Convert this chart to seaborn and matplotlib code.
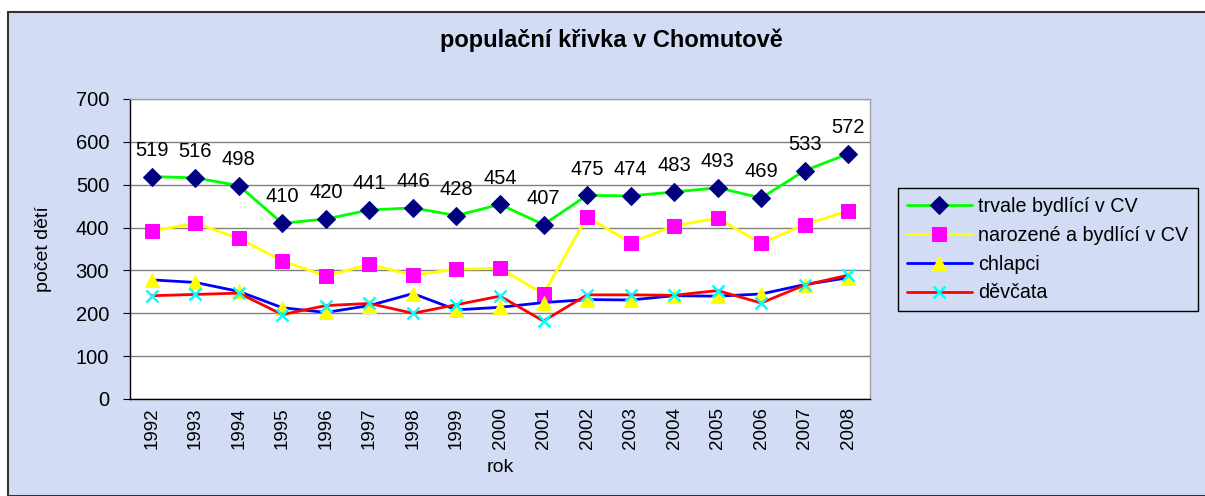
import matplotlib
matplotlib.use("Agg")
import matplotlib.pyplot as plt
import seaborn as sns
import numpy as np
from matplotlib.patches import Rectangle

# data
years = ['1992', '1993', '1994', '1995', '1996', '1997', '1998', '1999', '2000',
         '2001', '2002', '2003', '2004', '2005', '2006', '2007', '2008']
trvale = [519, 516, 498, 410, 420, 441, 446, 428, 454, 407, 475, 474, 483, 493, 469, 533, 572]
narozene = [392, 410, 375, 322, 287, 314, 289, 303, 305, 245, 425, 365, 404, 422, 363, 407, 439]
chlapci = [278, 272, 251, 213, 202, 218, 246, 208, 214, 225, 232, 231, 241, 240, 245, 267, 283]
devcata = [241, 244, 247, 197, 218, 223, 200, 220, 240, 182, 243, 243, 242, 253, 224, 266, 289]

sns.set_style("white")
plt.rcParams['font.family'] = ['Liberation Sans', 'DejaVu Sans']
plt.rcParams['text.color'] = 'black'
plt.rcParams['axes.labelcolor'] = 'black'
plt.rcParams['xtick.color'] = 'black'
plt.rcParams['ytick.color'] = 'black'

fig = plt.figure(figsize=(12.05, 4.96), dpi=100)
fig.patch.set_facecolor('white')
# pozadi grafu
fig.patches.append(Rectangle((8 / 1205, 0), 1, 1 - 12 / 496, transform=fig.transFigure,
                             facecolor='#d2ddf5', edgecolor='#333333', linewidth=1.5, zorder=-1))

ax = fig.add_axes([130 / 1205, 1 - 399 / 496, 740 / 1205, 300 / 496])
ax.set_zorder(2)
ax.set_facecolor('white')

x = np.arange(len(years))
sns.lineplot(x=x, y=trvale, ax=ax, color='#00ff00', linewidth=2, marker='D',
             markersize=9, markerfacecolor='#000080', markeredgecolor='#000080',
             label='trvale bydlící v CV')
sns.lineplot(x=x, y=narozene, ax=ax, color='#ffff00', linewidth=2, marker='s',
             markersize=10, markerfacecolor='#ff00ff', markeredgecolor='#ff00ff',
             label='narozené a bydlící v CV')
sns.lineplot(x=x, y=chlapci, ax=ax, color='#0000ff', linewidth=2, marker='^',
             markersize=10, markerfacecolor='#ffff00', markeredgecolor='#ffff00',
             label='chlapci')
sns.lineplot(x=x, y=devcata, ax=ax, color='#ff0000', linewidth=2, marker='x',
             markersize=9, markeredgewidth=1.8, markeredgecolor='#00ffff',
             label='děvčata')

# popisky hodnot
for xi, v in zip(x, trvale):
    ax.annotate(str(v), (xi, v), xytext=(0, 15), textcoords='offset points',
                ha='center', va='baseline', fontsize=14.5)

ax.set_xlim(-0.5, len(years) - 0.5)
ax.set_ylim(0, 700)
ax.set_yticks(range(0, 701, 100))
ax.yaxis.grid(True, color='#808080', linewidth=1)
ax.set_axisbelow(True)

ax.set_xticks(x)
ax.set_xticklabels(years, rotation=90, fontsize=13.5)
ax.set_xticks(np.arange(-0.5, len(years), 1), minor=True)
ax.tick_params(axis='x', which='major', length=0, pad=6)
ax.tick_params(axis='x', which='minor', length=5, direction='out', color='black')
ax.tick_params(axis='y', length=5, direction='out', color='black', labelsize=14.5, left=True, pad=10)

for s in ['left', 'bottom']:
    ax.spines[s].set_color('black')
    ax.spines[s].set_linewidth(1)
for s in ['top', 'right']:
    ax.spines[s].set_color('#a0a0a0')
    ax.spines[s].set_linewidth(1)

ax.set_xlabel('rok', fontsize=14, labelpad=7)
ax.set_ylabel('počet dětí', fontsize=14, labelpad=17)

fig.text(611 / 1205, 1 - 40 / 496, 'populační křivka v Chomutově', ha='center', va='center',
         fontsize=17, fontweight='bold')

leg = ax.legend(loc='upper left', bbox_to_anchor=(898 / 1205, 1 - 312 / 496, 300 / 1205, 124 / 496),
                bbox_transform=fig.transFigure, mode='expand', fontsize=14.2,
                frameon=True, fancybox=False, framealpha=1, borderaxespad=0,
                handlelength=3.3, handletextpad=0.3, labelspacing=0.5, borderpad=0.45)
leg.get_frame().set_edgecolor('black')
leg.get_frame().set_facecolor('#d2ddf5')
leg.get_frame().set_linewidth(1)

fig.savefig('out.png', dpi=100)
